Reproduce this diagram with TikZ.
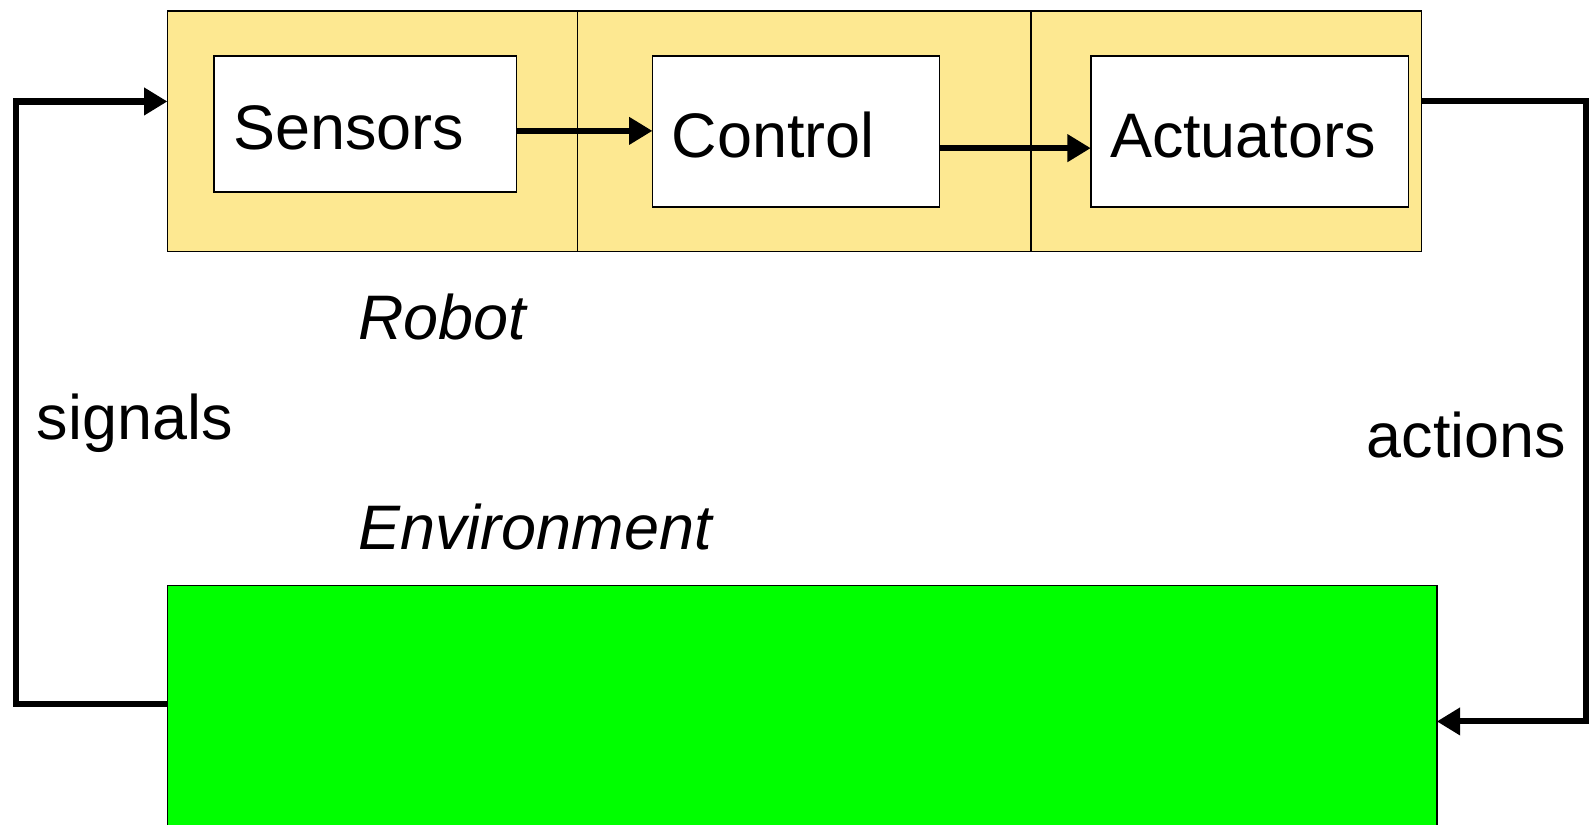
\documentclass[tikz,border=0pt]{standalone}
\usepackage{fontspec}
\setmainfont{Liberation Sans}
\usepackage{tikz}
\usetikzlibrary{arrows.meta}

\definecolor{robotyellow}{RGB}{253,232,145}
\definecolor{envgreen}{RGB}{0,255,0}

\tikzset{
  area/.style={draw, line width=1.5pt, fill=robotyellow, anchor=north west, outer sep=0pt, inner sep=0pt},
  block/.style={draw, line width=1.5pt, fill=white, anchor=north west, outer sep=0pt, inner xsep=19pt,
                align=left, text height=51pt, text depth=0pt},
  flow/.style={line width=6pt, -{Triangle[length=23pt,width=26pt]}},
  loopline/.style={line width=6pt, -{Triangle[length=23pt,width=26pt]}},
  tag/.style={anchor=base west, inner sep=0pt}
}

\begin{document}
\begin{tikzpicture}[x=1pt, y=-1pt, font=\fontsize{62}{70}\selectfont]
    \useasboundingbox (0,0) rectangle (1568,813);

    \node[area, minimum width=404, minimum height=237] (sensArea) at (165,11) {};
    \node[area, minimum width=447, minimum height=237] (ctrlArea) at (569,11) {};
    \node[area, minimum width=385, minimum height=237] (actArea) at (1016,11) {};

    \node[block, text width=260, minimum height=134] (sens) at (211,55) {Sensors};
    \node[block, text width=245, minimum height=149] (ctrl) at (643,55) {Control};
    \node[block, text width=275, minimum height=149] (act) at (1075,55) {Actuators};

    \node[draw, line width=1.5pt, fill=envgreen, anchor=north west, outer sep=0pt,
          minimum width=1251, minimum height=250] (env) at (165,577) {};

    \draw[flow] ([yshift=-7pt]sens.east) -- ([yshift=-7pt]sens.east -| ctrl.west);
    \draw[flow] ([yshift=-16.5pt]ctrl.east) -- ([yshift=-16.5pt]ctrl.east -| act.west);

    \draw[loopline] ([yshift=8pt]env.west) -| ([xshift=-149pt,yshift=29.5pt]sensArea.west)
        -- ([yshift=29.5pt]sensArea.west);
    \draw[loopline] ([yshift=30pt]actArea.east) -| ([xshift=147pt,yshift=-9pt]env.east)
        -- ([yshift=-9pt]env.east);

    \node[tag] (robotTag) at (353,335) {\itshape Robot};
    \node[tag] (envTag) at (353,542) {\itshape Environment};
    \node[tag] (sigTag) at (36,433) {signals};
    \node[tag] (actTag) at (1347,451) {actions};
\end{tikzpicture}
\end{document}
